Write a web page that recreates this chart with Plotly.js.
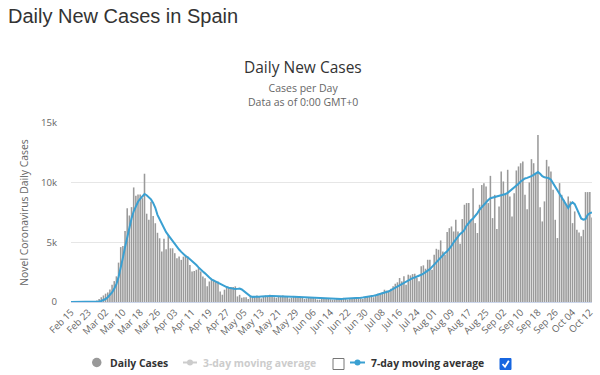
<!DOCTYPE html>
<html>
<head>
<meta charset="utf-8">
<script src="https://cdn.plot.ly/plotly-3.0.1.min.js"></script>
<style>html,body{margin:0;padding:0;background:#fff;}#chart{width:600px;height:375px;}</style>
</head>
<body>
<div id="chart"></div>
<script>
// ---------- data ----------
const startDate = '2020-02-15';

const dailyCases = [
  0,0,0,0,0,0,0,0,0,0,
  20,50,120,250,400,550,700,800,1050,1450,
  1750,2150,3300,4600,4700,5950,7850,7250,7950,9600,
  8900,9000,9000,8700,10750,7400,6900,8400,7200,6600,
  5800,5340,4230,5300,4420,5620,4500,4500,4090,3670,
  3810,3530,3800,3950,3800,3110,2560,2600,2700,2840,
  2560,2140,2000,1310,1720,1860,1860,1720,1720,890,
  610,1030,1310,1250,1250,1250,1310,470,600,350,
  400,400,250,450,350,500,550,450,300,450,
  550,500,600,550,400,350,500,450,550,500,
  450,300,350,500,450,400,450,350,250,300,
  400,350,350,300,200,200,300,300,300,250,
  220,180,200,300,250,300,350,300,200,250,
  300,350,400,350,300,250,400,450,450,550,
  400,600,700,750,810,1030,950,890,1100,1310,
  1530,1650,2010,1730,2150,1450,2290,2230,2340,2370,
  2010,1730,2990,3070,2790,3540,3540,2710,3960,4460,
  4380,5160,4240,3960,5860,6190,6330,5910,6890,5910,
  4880,6950,8150,8290,8290,6890,9540,6610,5780,8150,
  9800,9960,9680,8290,10570,7030,8980,6110,8010,10940,
  10100,9000,11080,8840,7170,9120,11020,11360,11630,11770,
  8980,7780,10020,11970,11630,10800,14000,7950,6750,8430,
  11910,11360,10940,9400,6890,5360,9960,8980,8570,8150,
  8840,8430,6610,7590,6050,5830,5500,6050,9210,9210,
  9210,7090
];

const movingAvg7 = [
  0,0,0,0,0,0,0,0,0,0,
  0,0,20,50,90,150,250,400,600,800,
  1100,1500,2100,2800,3700,4600,5500,6300,7000,7600,
  8000,8400,8650,8900,9050,8950,8800,8600,8300,7900,
  7300,6900,6500,6150,5850,5600,5350,5050,4800,4600,
  4400,4200,4000,3850,3750,3600,3450,3300,3100,2900,
  2700,2550,2400,2200,2050,1900,1800,1700,1600,1500,
  1400,1330,1250,1200,1150,1100,1080,1100,1120,1050,
  900,750,600,480,430,420,430,450,470,490,
  500,510,510,500,500,490,490,480,470,470,
  460,450,440,430,420,420,410,400,390,370,
  360,350,340,330,320,310,300,290,280,270,
  260,255,250,250,255,260,265,270,275,280,
  290,300,320,340,360,380,400,420,450,480,
  520,570,620,680,740,790,830,900,1000,1100,
  1200,1300,1420,1550,1650,1750,1850,1950,2000,2050,
  2150,2200,2280,2380,2480,2600,2750,2950,3150,3350,
  3500,3700,3900,4100,4250,4450,4700,5000,5250,5450,
  5700,5850,6050,6400,6650,6850,7000,7200,7450,7750,
  7950,8150,8400,8550,8700,8750,8800,8850,8900,8900,
  8950,9050,9150,9300,9450,9600,9700,9900,10100,10250,
  10350,10400,10450,10550,10650,10750,10890,10750,10550,10450,
  10400,10380,10250,9950,9700,9400,9100,8800,8450,8100,
  7870,8200,8350,8200,7800,7400,7000,6900,6950,7300,
  7450,7500
];

const tickDates = ['2020-02-15','2020-02-23','2020-03-02','2020-03-10','2020-03-18','2020-03-26',
  '2020-04-03','2020-04-11','2020-04-19','2020-04-27','2020-05-05','2020-05-13','2020-05-21',
  '2020-05-29','2020-06-06','2020-06-14','2020-06-22','2020-06-30','2020-07-08','2020-07-16',
  '2020-07-24','2020-08-01','2020-08-09','2020-08-17','2020-08-25','2020-09-02','2020-09-10',
  '2020-09-18','2020-09-26','2020-10-04','2020-10-12'];
const tickLabels = ['Feb 15','Feb 23','Mar 02','Mar 10','Mar 18','Mar 26','Apr 03','Apr 11',
  'Apr 19','Apr 27','May 05','May 13','May 21','May 29','Jun 06','Jun 14','Jun 22','Jun 30',
  'Jul 08','Jul 16','Jul 24','Aug 01','Aug 09','Aug 17','Aug 25','Sep 02','Sep 10','Sep 18',
  'Sep 26','Oct 04','Oct 12'];
const yTickValues = [0, 5000, 10000, 15000];
const yTickLabels = ['0', '5k', '10k', '15k'];

const seriesNames = ['Daily Cases', '3-day moving average', '7-day moving average'];

// ---------- helpers ----------
function dayString(i) {
  const p = startDate.split('-').map(Number);
  const d = new Date(Date.UTC(p[0], p[1] - 1, p[2] + i));
  return d.toISOString().slice(0, 10);
}
const dates = dailyCases.map((_, i) => dayString(i));

const PL = 71, PR = 592, PT = 123, PB = 302;
const px2x = px => (px - PL) / (PR - PL);
const py2y = py => (PB - py) / (PB - PT);

const FONT = 'Open Sans, DejaVu Sans, sans-serif';
const BLUE = '#3aa0d2';

// ---------- traces ----------
const traces = [
  {
    type: 'bar', name: seriesNames[0], x: dates, y: dailyCases,
    marker: { color: '#9a9a9a', line: { width: 0 } },
    showlegend: false, hoverinfo: 'x+y'
  },
  {
    type: 'scatter', mode: 'lines', name: seriesNames[2], x: dates, y: movingAvg7,
    line: { color: BLUE, width: 2 }, showlegend: false
  }
];

// ---------- legend (drawn) ----------
const legY = 362.5;
const shapes = [
  { type: 'circle', xref: 'paper', yref: 'paper',
    x0: px2x(92), x1: px2x(101.5), y0: py2y(legY + 4.75), y1: py2y(legY - 4.75),
    fillcolor: '#999999', line: { width: 0 } },
  { type: 'line', xref: 'paper', yref: 'paper',
    x0: px2x(183), x1: px2x(197), y0: py2y(legY), y1: py2y(legY),
    line: { color: '#cccccc', width: 2 } },
  { type: 'circle', xref: 'paper', yref: 'paper',
    x0: px2x(187), x1: px2x(193), y0: py2y(legY + 3), y1: py2y(legY - 3),
    fillcolor: '#cccccc', line: { width: 0 } },
  { type: 'rect', xref: 'paper', yref: 'paper',
    x0: px2x(333), x1: px2x(344), y0: py2y(369.5), y1: py2y(358.5),
    fillcolor: '#ffffff', line: { color: '#767676', width: 1 } },
  { type: 'line', xref: 'paper', yref: 'paper',
    x0: px2x(350), x1: px2x(365), y0: py2y(legY), y1: py2y(legY),
    line: { color: BLUE, width: 2 } },
  { type: 'circle', xref: 'paper', yref: 'paper',
    x0: px2x(354.5), x1: px2x(360.5), y0: py2y(legY + 3), y1: py2y(legY - 3),
    fillcolor: BLUE, line: { width: 0 } },
  { type: 'rect', xref: 'paper', yref: 'paper',
    x0: px2x(500), x1: px2x(511), y0: py2y(369.5), y1: py2y(358.5),
    fillcolor: '#1766e0', line: { color: '#1766e0', width: 1 } },
  { type: 'path', xref: 'paper', yref: 'paper',
    path: 'M ' + px2x(502.5) + ',' + py2y(364) + ' L ' + px2x(505) + ',' + py2y(366.8) +
          ' L ' + px2x(508.8) + ',' + py2y(360.8),
    line: { color: '#ffffff', width: 1.8 } }
];

const annotations = [
  { text: 'Daily New Cases in Spain', xref: 'paper', yref: 'paper',
    x: px2x(6), y: py2y(16), xanchor: 'left', yanchor: 'middle', showarrow: false,
    font: { family: 'Liberation Sans, Arial, sans-serif', size: 20, color: '#333333' } },
  { text: 'Daily New Cases', xref: 'paper', yref: 'paper',
    x: px2x(302.5), y: py2y(67), xanchor: 'center', yanchor: 'middle', showarrow: false,
    font: { family: FONT, size: 15.5, color: '#333333' } },
  { text: 'Cases per Day<br>Data as of 0:00 GMT+0', xref: 'paper', yref: 'paper',
    x: px2x(302.5), y: py2y(95), xanchor: 'center', yanchor: 'middle', showarrow: false,
    font: { family: FONT, size: 10.5, color: '#666666' } },
  { text: seriesNames[0], xref: 'paper', yref: 'paper',
    x: px2x(107.5), y: py2y(legY), xanchor: 'left', yanchor: 'middle', showarrow: false,
    font: { family: FONT, size: 10.4, color: '#333333', weight: 700 } },
  { text: seriesNames[1], xref: 'paper', yref: 'paper',
    x: px2x(201), y: py2y(legY), xanchor: 'left', yanchor: 'middle', showarrow: false,
    font: { family: FONT, size: 10.4, color: '#cccccc', weight: 700 } },
  { text: seriesNames[2], xref: 'paper', yref: 'paper',
    x: px2x(368.5), y: py2y(legY), xanchor: 'left', yanchor: 'middle', showarrow: false,
    font: { family: FONT, size: 10.4, color: '#333333', weight: 700 } }
];

const layout = {
  width: 600, height: 375,
  margin: { l: PL, r: 600 - PR, t: PT, b: 375 - PB, pad: 0 },
  paper_bgcolor: '#ffffff', plot_bgcolor: '#ffffff',
  showlegend: false,
  bargap: 0.28,
  font: { family: FONT, color: '#666666' },
  xaxis: {
    type: 'date',
    range: [dates[0], dates[dates.length - 1]],
    tickmode: 'array', tickvals: tickDates, ticktext: tickLabels,
    tickangle: -45, ticks: '',
    tickfont: { family: FONT, size: 9.6, color: '#666666' },
    showgrid: false, zeroline: false,
    showline: true, linecolor: '#ccd6eb', linewidth: 1
  },
  yaxis: {
    range: [0, 15000],
    tickmode: 'array', tickvals: yTickValues, ticktext: yTickLabels,
    tickfont: { family: FONT, size: 9.6, color: '#666666' },
    ticks: '', ticklabelstandoff: 13,
    showgrid: true, gridcolor: '#e6e6e6', gridwidth: 1,
    zeroline: false, showline: false,
    title: { text: 'Novel Coronavirus Daily Cases', standoff: 10,
             font: { family: FONT, size: 10.4, color: '#666666' } }
  },
  shapes: shapes,
  annotations: annotations
};

Plotly.newPlot('chart', traces, layout, { displayModeBar: false, staticPlot: true });
</script>
</body>
</html>
